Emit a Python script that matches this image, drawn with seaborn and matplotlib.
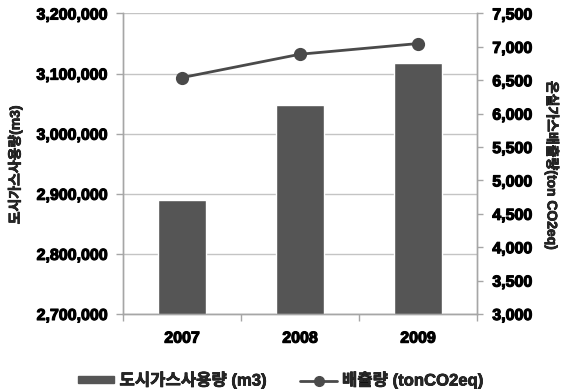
import matplotlib
matplotlib.use("Agg")
import matplotlib.pyplot as plt
import matplotlib.patheffects as pe
import seaborn as sns
import pandas as pd
from matplotlib.patches import Patch
from matplotlib.lines import Line2D
from matplotlib.ticker import FuncFormatter, MultipleLocator, FixedLocator

# Data
years = ["2007", "2008", "2009"]
gas_usage = [2890000, 3048000, 3117000]        # 도시가스사용량 (m3)
emissions = [6540, 6890, 7050]                 # 배출량 (tonCO2eq)

left_ticks = [2700000, 2800000, 2900000, 3000000, 3100000, 3200000]
right_ticks = [3000, 3500, 4000, 4500, 5000, 5500, 6000, 6500, 7000, 7500]

bar_label = "도시가스사용량 (m3)"
line_label = "배출량 (tonCO2eq)"
left_ylabel = "도시가스사용량(m3)"
right_ylabel = "온실가스배출량(ton CO2eq)"

df = pd.DataFrame({"year": years, "usage": gas_usage, "emission": emissions})

sns.set_theme(style="white")
FONT = ["Liberation Sans", "Noto Sans CJK KR", "DejaVu Sans"]
plt.rcParams["font.family"] = FONT
plt.rcParams["font.weight"] = "bold"
plt.rcParams["axes.labelweight"] = "bold"

DARK = "#555555"
GRID = "#c4c4c4"
SPINE = "#a6a6a6"
HEAVY = [pe.withStroke(linewidth=0.8, foreground="black")]
HEAVY_KR = [pe.withStroke(linewidth=0.5, foreground="black")]

fig = plt.figure(figsize=(5.61, 3.89), dpi=100)
ax = fig.add_axes([0.2193, 0.1928, 0.8503 - 0.2193, 0.9653 - 0.1928])

sns.barplot(data=df, x="year", y="usage", color=DARK, saturation=1,
            width=0.4, ax=ax, zorder=2)
ax.set_ylim(left_ticks[0], left_ticks[-1])
ax.yaxis.set_major_locator(FixedLocator(left_ticks))
ax.yaxis.set_major_formatter(FuncFormatter(lambda v, p: f"{int(v):,}"))
ax.grid(axis="y", color=GRID, linewidth=1, zorder=0)
ax.set_axisbelow(True)
ax.set_xlim(-0.5, 2.5)

ax2 = ax.twinx()
sns.pointplot(data=df, x="year", y="emission", color="#4a4a4a",
              markers="o", markersize=8, linewidth=2, ax=ax2)
ax2.set_ylim(right_ticks[0], right_ticks[-1])
ax2.yaxis.set_major_locator(MultipleLocator(500))
ax2.yaxis.set_major_formatter(FuncFormatter(lambda v, p: f"{int(v):,}"))
ax2.set_xlim(-0.5, 2.5)

# Spines
for a in (ax, ax2):
    a.spines["top"].set_visible(False)
    for s in ("left", "right", "bottom"):
        a.spines[s].set_color(SPINE)
        a.spines[s].set_linewidth(1)

# Ticks
ax.tick_params(axis="y", which="major", direction="out", length=5,
               width=1, color=SPINE, pad=6, left=True, labelsize=11.5,
               labelcolor="black")
ax2.tick_params(axis="y", which="major", direction="out", length=4,
                width=1, color=SPINE, pad=7, right=True, labelsize=11.5,
                labelcolor="black")
ax.set_xticks([0, 1, 2])
ax.set_xticklabels(years)
ax.xaxis.set_minor_locator(FixedLocator([-0.5, 0.5, 1.5, 2.5]))
ax.tick_params(axis="x", which="major", length=0, pad=12, labelsize=11.5,
               labelcolor="black")
ax.tick_params(axis="x", which="minor", direction="out", length=5,
               width=1, color=SPINE, bottom=True)

# Axis labels
ax.set_xlabel("")
ax.set_ylabel(left_ylabel, fontsize=10, fontweight="bold", rotation=90)
ax.yaxis.label.set_va("center")
ax.yaxis.label.set_ha("center")
ax.yaxis.set_label_coords(-0.305, 0.496)
ax2.set_ylabel(right_ylabel, fontsize=10, fontweight="bold", rotation=270)
ax2.yaxis.label.set_va("center")
ax2.yaxis.label.set_ha("center")
ax2.yaxis.set_label_coords(1.212, 0.495)
ax.yaxis.label.set_path_effects(HEAVY_KR)
ax2.yaxis.label.set_path_effects(HEAVY_KR)

# Legend
handles = [
    Patch(facecolor=DARK, edgecolor=DARK, label=bar_label),
    Line2D([0], [0], color="#4a4a4a", linewidth=2, marker="o",
           markersize=7, label=line_label),
]
leg = fig.legend(handles=handles, loc="center",
                 bbox_to_anchor=(0.5, 1 - 380 / 389),
                 ncol=2, frameon=False, handlelength=2.2, handleheight=0.35,
                 columnspacing=2.0, handletextpad=0.3,
                 prop=dict(size=12, weight="bold", family=FONT))
for t in leg.get_texts():
    t.set_path_effects(HEAVY_KR)

# Heavier tick labels once they exist
fig.canvas.draw()
for lbl in ax.get_yticklabels() + ax2.get_yticklabels() + ax.get_xticklabels():
    lbl.set_fontweight("bold")
    lbl.set_path_effects(HEAVY)

fig.savefig("out.png", dpi=100)
